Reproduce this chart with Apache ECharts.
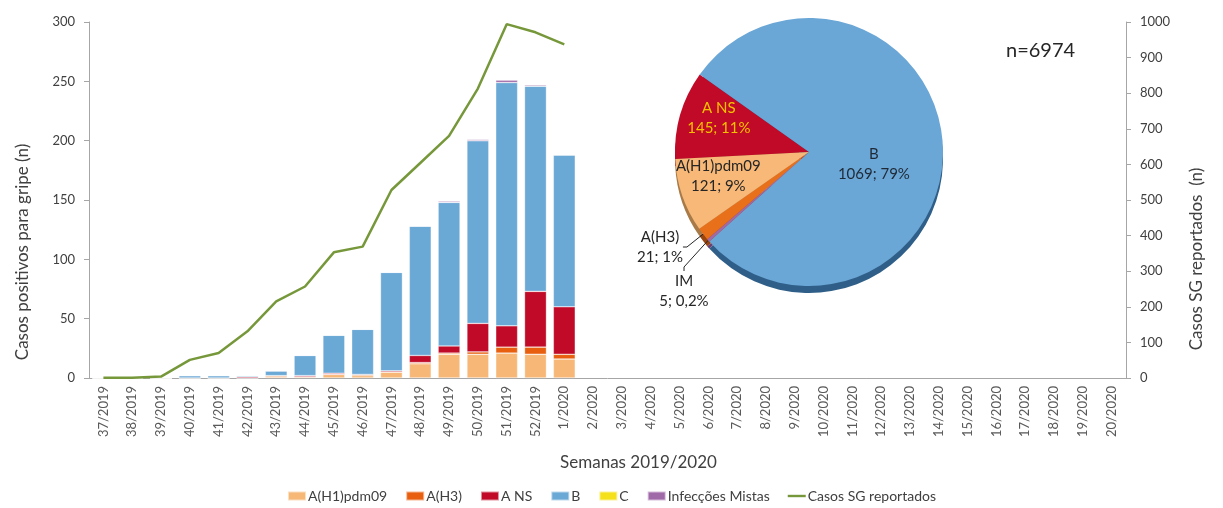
<!DOCTYPE html>
<html>
<head>
<meta charset="utf-8">
<script src="https://cdn.jsdelivr.net/npm/echarts@6/dist/echarts.min.js"></script>
<style>
  html, body { margin: 0; padding: 0; background: #fff; }
  #chart { width: 1223px; height: 508px; }
</style>
</head>
<body>
<div id="chart"></div>
<script>
// semanas epidemiológicas
const semanas = [
  '37/2019', '38/2019', '39/2019', '40/2019', '41/2019', '42/2019', '43/2019', '44/2019',
  '45/2019', '46/2019', '47/2019', '48/2019', '49/2019', '50/2019', '51/2019', '52/2019',
  '1/2020', '2/2020', '3/2020', '4/2020', '5/2020', '6/2020', '7/2020', '8/2020', '9/2020',
  '10/2020', '11/2020', '12/2020', '13/2020', '14/2020', '15/2020', '16/2020', '17/2020',
  '18/2020', '19/2020', '20/2020'
];

// casos positivos por subtipo (só até 1/2020)
const h1pdm09 = [0, 0, 0, 0, 0, 0, 1, 1, 3, 2, 5, 12, 20, 20, 21, 20, 16];
const h3 = [0, 0, 0, 0, 0, 0, 1, 0, 0, 1, 0, 1, 1, 2, 5, 6, 4];
const aNS = [0, 0, 0, 0, 0, 1, 0, 1, 1, 0, 1, 6, 6, 24, 18, 47, 40];
const fluB = [0, 0, 0, 2, 2, 1, 4, 17, 32, 38, 83, 109, 121, 154, 205, 173, 128];
const fluC = [0, 0, 0, 0, 0, 0, 0, 0, 0, 0, 0, 0, 0, 0, 0, 0, 0];
const mistas = [0, 0, 0, 0, 0, 0, 0, 0, 0, 0, 0, 0, 1, 1, 2, 1, 0];

// casos de síndrome gripal reportados (eixo da direita)
const casosSG = [1, 1, 4, 51, 70, 131, 215, 257, 353, 369, 528, 604, 680, 813, 994, 971, 937];

// pizza: total acumulado
const pizzaNomes = ['A NS', 'B', 'IM', 'A(H3)', 'A(H1)pdm09'];
const pizzaValores = [145, 1069, 5, 21, 121];
const pizzaTextos = ['A NS\n145; 11%', 'B\n1069; 79%', 'IM\n5; 0,2%', 'A(H3)\n21; 1%', 'A(H1)pdm09\n121; 9%'];

const cores = {
  h1: '#f7b877',
  h3: '#e8600f',
  ans: '#c00a27',
  b: '#6aa8d6',
  c: '#f5e11b',
  im: '#a06aa8',
  sg: '#76983a'
};
const coresPizza = [cores.ans, '#6aa6d6', cores.im, '#e8701a', '#f7b878'];
const coresBorda = ['#7d0a1c', '#2f5f88', '#6a3f72', '#9a4410', '#a87a48'];

const fonte = 'Lato, "Open Sans", sans-serif';
const chart = echarts.init(document.getElementById('chart'));

function barra (nome, dados, cor) {
  return {
    name: nome,
    type: 'bar',
    stack: 'gripe',
    yAxisIndex: 0,
    barCategoryGap: '24%',
    data: dados,
    itemStyle: { color: cor, borderColor: 'rgba(255,255,255,0.55)', borderWidth: 0.6 },
    emphasis: { disabled: true }
  };
}

chart.setOption({
  animation: false,
  textStyle: { fontFamily: fonte },
  title: {
    text: 'n=6974',
    left: 1001,
    top: 36,
    textStyle: { fontFamily: fonte, fontSize: 20, fontWeight: 'normal', color: '#262626' }
  },
  legend: {
    bottom: 0,
    left: 'center',
    itemWidth: 18,
    itemHeight: 9,
    itemGap: 18,
    textStyle: { fontFamily: fonte, fontSize: 14, color: '#404040', padding: [0, 0, 0, -3] },
    data: [
      { name: 'A(H1)pdm09', icon: 'rect' },
      { name: 'A(H3)', icon: 'rect' },
      { name: 'A NS', icon: 'rect' },
      { name: 'B', icon: 'rect' },
      { name: 'C', icon: 'rect' },
      { name: 'Infecções Mistas', icon: 'rect' },
      { name: 'Casos SG reportados', icon: 'path://M0,0 L18,0 L18,2.4 L0,2.4 Z' }
    ]
  },
  grid: { left: 89, right: 97, top: 22, bottom: 130 },
  xAxis: {
    type: 'category',
    data: semanas,
    boundaryGap: true,
    name: 'Semanas 2019/2020',
    nameLocation: 'middle',
    nameGap: 76,
    nameTextStyle: { fontSize: 17, color: '#404040', padding: [0, 0, 0, 62] },
    axisLine: { lineStyle: { color: '#a6a6a6' } },
    axisTick: { interval: 0, length: 5, lineStyle: { color: '#a6a6a6' } },
    axisLabel: { interval: 0, rotate: 90, fontSize: 13, color: '#595959', margin: 8 }
  },
  yAxis: [
    {
      type: 'value',
      min: 0,
      max: 300,
      interval: 50,
      name: 'Casos positivos para gripe (n)',
      nameLocation: 'middle',
      nameGap: 58,
      nameTextStyle: { fontSize: 17, color: '#404040', padding: [0, 104, 0, 0] },
      axisLine: { show: true, lineStyle: { color: '#a6a6a6' } },
      axisTick: { show: true, length: 5, lineStyle: { color: '#a6a6a6' } },
      axisLabel: { fontSize: 13, color: '#404040', margin: 14 },
      splitLine: { show: false }
    },
    {
      type: 'value',
      min: 0,
      max: 1000,
      interval: 100,
      position: 'right',
      name: 'Casos SG reportados  (n)',
      nameLocation: 'middle',
      nameGap: 62,
      nameTextStyle: { fontSize: 17, color: '#404040', padding: [0, 118, 0, 0] },
      axisLine: { show: true, lineStyle: { color: '#a6a6a6' } },
      axisTick: { show: true, length: 5, inside: false, lineStyle: { color: '#a6a6a6' } },
      axisLabel: { fontSize: 13, color: '#404040', margin: 14, formatter: v => String(v) },
      splitLine: { show: false }
    }
  ],
  series: [
    barra('A(H1)pdm09', h1pdm09, cores.h1),
    barra('A(H3)', h3, cores.h3),
    barra('A NS', aNS, cores.ans),
    barra('B', fluB, cores.b),
    barra('C', fluC, cores.c),
    barra('Infecções Mistas', mistas, cores.im),
    {
      name: 'Casos SG reportados',
      type: 'line',
      yAxisIndex: 1,
      data: casosSG,
      showSymbol: false,
      symbol: 'none',
      itemStyle: { color: cores.sg },
      lineStyle: { color: cores.sg, width: 2.5 },
      z: 5
    },
    // borda "3D" da pizza
    {
      type: 'pie',
      silent: true,
      center: [809, 159],
      radius: 134,
      startAngle: 183,
      data: pizzaValores.map((v, i) => ({ value: v, name: pizzaNomes[i], itemStyle: { color: coresBorda[i] } })),
      label: { show: false },
      labelLine: { show: false },
      z: 6
    },
    // pizza principal
    {
      type: 'pie',
      silent: true,
      center: [809, 152],
      radius: 134,
      startAngle: 183,
      data: pizzaValores.map((v, i) => ({
        value: v,
        name: pizzaNomes[i],
        itemStyle: { color: coresPizza[i] },
        label: i === 1
          ? { show: true, position: 'inside', color: '#1f2a36', fontSize: 15, lineHeight: 20 }
          : (i === 2 || i === 3)
            ? { show: true, position: 'outside', color: '#262626', fontSize: 15, lineHeight: 20, align: 'center' }
            : { show: false },
        labelLine: (i === 2 || i === 3)
          ? { show: true, length: 4, length2: 4, lineStyle: { color: '#262626', width: 1 } }
          : { show: false }
      })),
      label: {
        fontFamily: fonte,
        formatter: p => pizzaTextos[p.dataIndex]
      },
      labelLayout: function (p) {
        if (p.dataIndex === 3) return { x: 660, y: 247, align: 'center', verticalAlign: 'middle' };
        if (p.dataIndex === 2) return { x: 684, y: 291, align: 'center', verticalAlign: 'middle' };
        if (p.dataIndex === 1) return { dx: -5, dy: 16 };
        return {};
      },
      z: 7
    },
    // rótulos de A NS e A(H1)pdm09 mais perto da borda
    {
      type: 'pie',
      silent: true,
      center: [809, 152],
      radius: 190,
      startAngle: 183,
      data: pizzaValores.map((v, i) => ({
        value: v,
        name: pizzaNomes[i],
        itemStyle: { color: 'rgba(0,0,0,0)' },
        label: i === 0
          ? { show: true, color: '#f2c200' }
          : i === 4
            ? { show: true, color: '#262626' }
            : { show: false }
      })),
      label: {
        position: 'inside',
        fontFamily: fonte,
        fontSize: 15,
        lineHeight: 20,
        formatter: p => pizzaTextos[p.dataIndex]
      },
      labelLayout: function (p) {
        if (p.dataIndex === 0) return { dx: 4, dy: -7 };
        if (p.dataIndex === 4) return { dx: 2, dy: -8 };
        return {};
      },
      labelLine: { show: false },
      z: 8
    }
  ]
});
</script>
</body>
</html>
